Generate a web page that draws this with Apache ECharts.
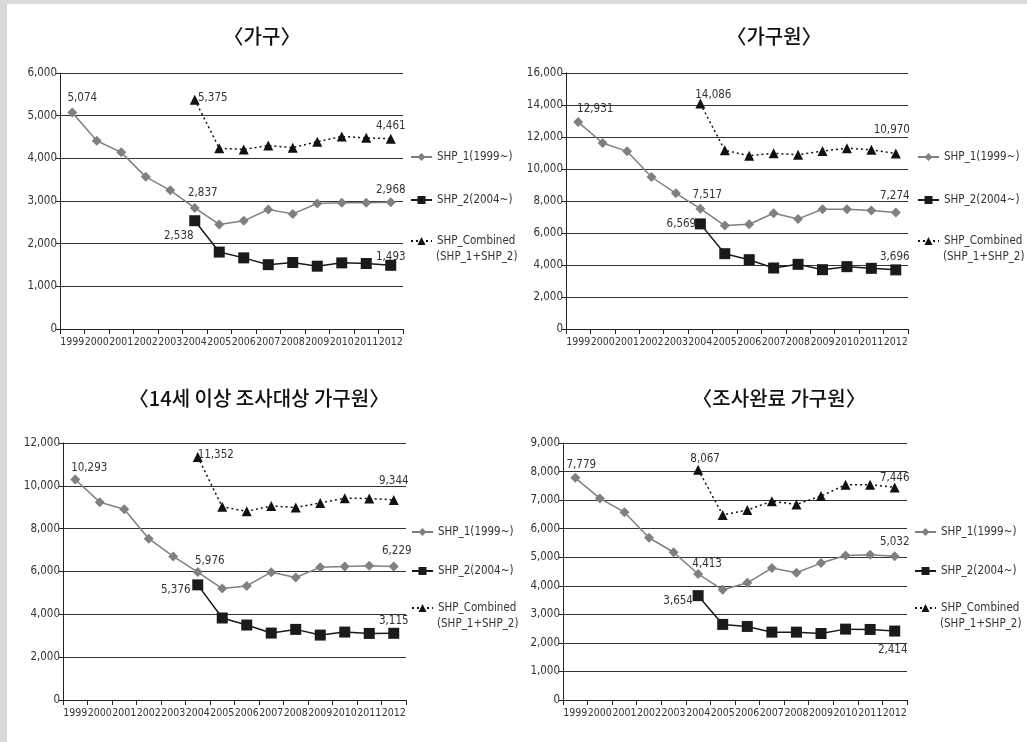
<!DOCTYPE html>
<html>
<head>
<meta charset="utf-8">
<script src="https://cdn.jsdelivr.net/npm/echarts@6/dist/echarts.min.js"></script>
<style>
html,body{margin:0;padding:0;background:#fff;}
#chart{width:1027px;height:742px;}
</style>
</head>
<body>
<div id="chart"></div>
<script>
// ---------- data ----------
const years = ['1999','2000','2001','2002','2003','2004','2005','2006','2007','2008','2009','2010','2011','2012'];
const panelTitles = ['〈가구〉','〈가구원〉','〈14세 이상 조사대상 가구원〉','〈조사완료 가구원〉'];
const seriesNames = ['SHP_1(1999~)','SHP_2(2004~)','SHP_Combined'];
const legendSecondLine = '(SHP_1+SHP_2)';

// 가구
const hh_shp1 = [5074, 4411, 4140, 3566, 3250, 2837, 2450, 2535, 2800, 2698, 2940, 2961, 2961, 2968];
const hh_shp2 = [null, null, null, null, null, 2538, 1803, 1667, 1508, 1558, 1472, 1550, 1535, 1493];
const hh_comb = [null, null, null, null, null, 5375, 4235, 4209, 4300, 4250, 4390, 4512, 4480, 4461];
// 가구원
const mem_shp1 = [12931, 11625, 11104, 9500, 8477, 7517, 6466, 6549, 7233, 6881, 7482, 7482, 7399, 7274];
const mem_shp2 = [null, null, null, null, null, 6569, 4708, 4333, 3812, 4042, 3708, 3896, 3792, 3696];
const mem_comb = [null, null, null, null, null, 14086, 11170, 10830, 10980, 10890, 11120, 11300, 11200, 10970];
// 14세 이상 조사대상 가구원
const t14_shp1 = [10293, 9237, 8911, 7533, 6703, 5976, 5203, 5328, 5969, 5719, 6203, 6234, 6266, 6229];
const t14_shp2 = [null, null, null, null, null, 5376, 3828, 3500, 3125, 3297, 3031, 3172, 3109, 3115];
const t14_comb = [null, null, null, null, null, 11352, 9020, 8810, 9060, 8990, 9200, 9424, 9409, 9344];
// 조사완료 가구원
const done_shp1 = [7779, 7059, 6576, 5682, 5174, 4413, 3860, 4105, 4620, 4456, 4795, 5060, 5084, 5032];
const done_shp2 = [null, null, null, null, null, 3654, 2647, 2576, 2376, 2376, 2329, 2482, 2470, 2414];
const done_comb = [null, null, null, null, null, 8067, 6480, 6650, 6960, 6850, 7140, 7541, 7541, 7446];

const yMax = [6000, 16000, 12000, 9000];
const yStep = [1000, 2000, 2000, 1000];

// ---------- layout / style ----------
const NARROW = "'DejaVu Sans', sans-serif";
const STRETCH = 'condensed';
const FS = 11.5;
const TXT = '#333';
const grids = [
  {left: 60, top: 73, width: 343, height: 256},
  {left: 566, top: 73, width: 342, height: 256},
  {left: 63, top: 443, width: 343, height: 257},
  {left: 563, top: 443, width: 344, height: 257}
];
const titlePos = [[262, 36], [774, 36], [259, 398], [779, 398]];
const legendPos = [
  {x: 410, rows: [158, 201, 242]},
  {x: 917, rows: [158, 201, 242]},
  {x: 411, rows: [533, 572, 609]},
  {x: 914, rows: [533, 572, 609]}
];
const LEG_W = 21;
// label offsets [dx, dy] from marker centre, by series, keyed by data index
const labelOffsets = [
  [{0: [10, -14], 5: [8, -15], 13: [0, -12]}, {5: [-16, 15], 13: [0, -8]}, {5: [18, -2], 13: [0, -13]}],
  [{0: [17, -13], 5: [7, -14], 13: [-1, -17]}, {5: [-19, 0], 13: [-1, -13]}, {5: [13, -9], 13: [-4, -23]}],
  [{0: [14, -12], 5: [12, -11], 13: [3, -16]}, {5: [-22, 5], 13: [0, -12]}, {5: [18, -2], 13: [0, -19]}],
  [{0: [6, -13], 5: [9, -10], 13: [0, -14]}, {5: [-20, 5], 13: [-2, 19]}, {5: [7, -11], 13: [0, -9]}]
];
const panelData = [
  [hh_shp1, hh_shp2, hh_comb],
  [mem_shp1, mem_shp2, mem_comb],
  [t14_shp1, t14_shp2, t14_comb],
  [done_shp1, done_shp2, done_comb]
];
const seriesStyle = [
  {symbol: 'diamond', symbolSize: 10, color: '#808080', lineStyle: {color: '#808080', width: 1.5, type: 'solid'}},
  {symbol: 'rect', symbolSize: 11, color: '#1a1a1a', lineStyle: {color: '#1a1a1a', width: 1.5, type: 'solid'}},
  {symbol: 'triangle', symbolSize: 10, color: '#111', lineStyle: {color: '#111', width: 1.5, type: [2, 3]}}
];
const fmt = v => Number(v).toLocaleString('en-US');
const txtStyle = {fontSize: FS, color: TXT, fontFamily: NARROW, fontWeight: STRETCH};

const option = {
  animation: false,
  backgroundColor: '#fff',
  textStyle: {fontFamily: NARROW},
  grid: [], xAxis: [], yAxis: [], series: [], legend: [], graphic: []
};

// frame strips
option.graphic.push({type: 'rect', shape: {x: 0, y: 0, width: 1027, height: 4}, style: {fill: '#d9d9d9'}, silent: true});
option.graphic.push({type: 'rect', shape: {x: 0, y: 0, width: 7, height: 742}, style: {fill: '#d9d9d9'}, silent: true});

for (let p = 0; p < 4; p++) {
  option.grid.push(Object.assign({containLabel: false}, grids[p]));
  option.xAxis.push({
    type: 'category', gridIndex: p, data: years, boundaryGap: true,
    axisLine: {show: true, lineStyle: {color: '#222', width: 1}},
    axisTick: {show: true, alignWithLabel: false, length: 5, lineStyle: {color: '#222'}},
    axisLabel: Object.assign({interval: 0, margin: 8}, txtStyle, {fontSize: 10.5}),
    splitLine: {show: false}
  });
  option.yAxis.push({
    type: 'value', gridIndex: p, min: 0, max: yMax[p], interval: yStep[p],
    axisLine: {show: true, lineStyle: {color: '#222', width: 1}},
    axisTick: {show: true, length: 4, lineStyle: {color: '#222'}},
    axisLabel: Object.assign({margin: 3, formatter: fmt}, txtStyle),
    splitLine: {show: true, lineStyle: {color: '#333', width: 1.2}}
  });
  for (let s = 0; s < 3; s++) {
    const st = seriesStyle[s];
    const offs = labelOffsets[p][s];
    const data = panelData[p][s].map((v, i) => {
      if (v != null && offs[i]) {
        return {value: v, label: Object.assign({show: true, position: 'inside', offset: offs[i],
          formatter: d => fmt(d.value)}, txtStyle)};
      }
      return v;
    });
    option.series.push({
      type: 'line', name: seriesNames[s], xAxisIndex: p, yAxisIndex: p, data: data,
      symbol: st.symbol, symbolSize: st.symbolSize, showAllSymbol: true,
      itemStyle: {color: st.color}, lineStyle: st.lineStyle,
      label: {show: false}, emphasis: {disabled: true}, connectNulls: false, z: 3 + s
    });
  }
  // legends, one component per row
  const lp = legendPos[p];
  for (let s = 0; s < 3; s++) {
    option.legend.push({
      data: [seriesNames[s]], orient: 'vertical', left: lp.x, top: lp.rows[s] - 7,
      padding: 0, itemWidth: LEG_W, itemHeight: 10, itemGap: 0, selectedMode: false,
      textStyle: Object.assign({}, txtStyle)
    });
  }
  option.graphic.push({type: 'text', x: lp.x + LEG_W + 5, y: lp.rows[2] + 15,
    style: {text: legendSecondLine, fill: TXT, font: STRETCH + ' ' + FS + 'px ' + NARROW, verticalAlign: 'middle', align: 'left'}});
  // titles
  option.graphic.push({type: 'text', x: titlePos[p][0], y: titlePos[p][1],
    style: {text: panelTitles[p], fill: '#111', font: '500 20px "Noto Sans CJK KR", sans-serif', align: 'center', verticalAlign: 'middle'}});
}

const chart = echarts.init(document.getElementById('chart'), null, {renderer: 'canvas'});
chart.setOption(option);
</script>
</body>
</html>
